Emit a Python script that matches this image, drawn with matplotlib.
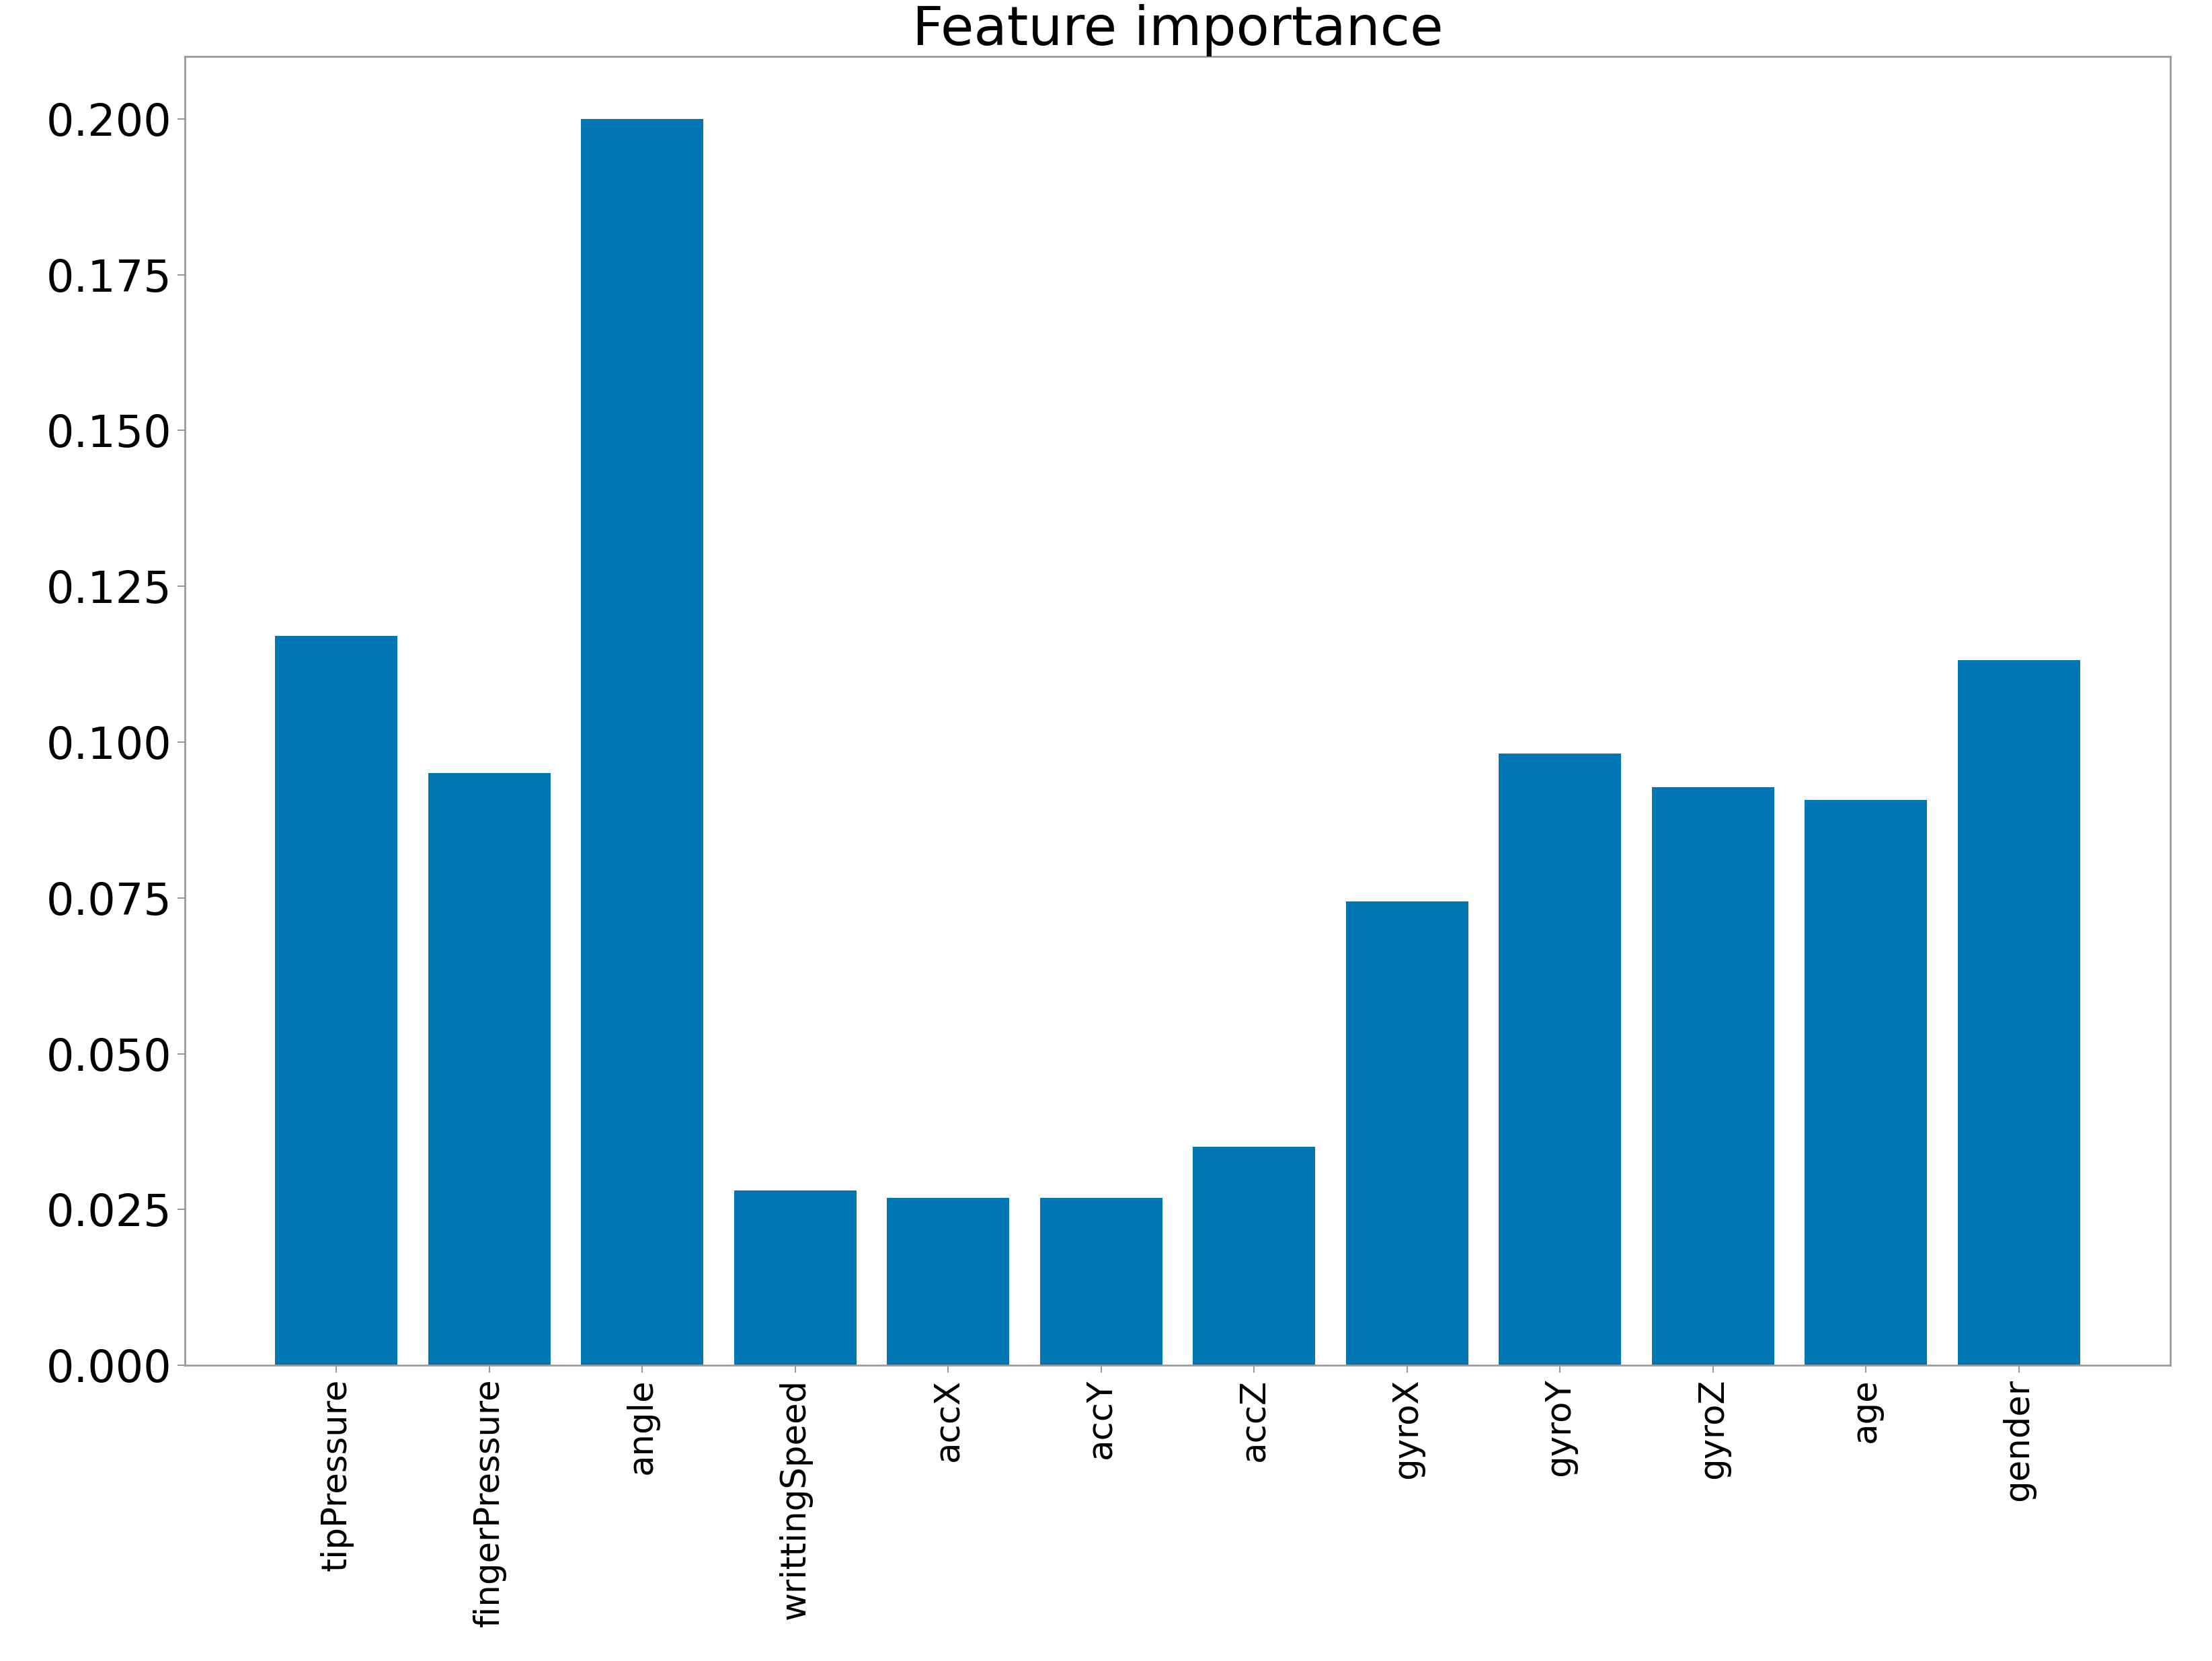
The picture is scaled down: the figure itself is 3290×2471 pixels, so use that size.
import matplotlib
matplotlib.use("Agg")
import matplotlib.pyplot as plt
import numpy as np


features = ["tipPressure", "fingerPressure", "angle", "writtingSpeed",
            "accX", "accY", "accZ", "gyroX", "gyroY", "gyroZ", "age", "gender"]
importance = [0.1170, 0.0950, 0.2000, 0.0281, 0.0269, 0.0269,
              0.0351, 0.0744, 0.0982, 0.0928, 0.0907, 0.1131]
ytick_vals = [0.000, 0.025, 0.050, 0.075, 0.100, 0.125, 0.150, 0.175, 0.200]


fig = plt.figure(figsize=(32.9, 24.71), dpi=100)
ax = fig.add_axes([0.0836, 0.178, 0.8975, 0.788])

x = np.arange(len(features))
ax.bar(x, importance, width=0.8, color="#0176b4")

ax.set_xticks(x)
ax.set_xticklabels(features, rotation=90, fontsize=37)
ax.set_yticks(ytick_vals)
ax.set_yticklabels(["%.3f" % v for v in ytick_vals], fontsize=47)
ax.tick_params(axis="both", length=8, width=1.5, color="#999999", pad=6)

for side in ["left", "right", "top", "bottom"]:
  ax.spines[side].set_color("#9a9a9a")
  ax.spines[side].set_linewidth(2)

ax.set_title("Feature importance", fontsize=58, pad=8)

fig.savefig("out.png", dpi=100)
